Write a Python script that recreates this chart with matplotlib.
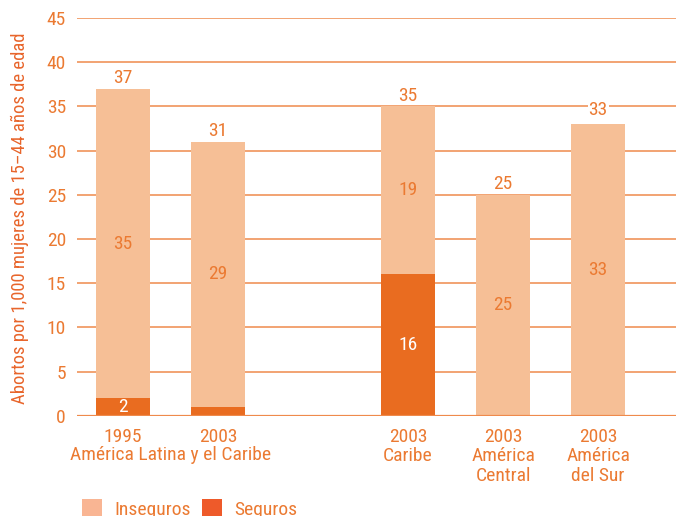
import matplotlib
matplotlib.use("Agg")
import matplotlib.pyplot as plt
from matplotlib.patches import Patch
from matplotlib import font_manager as fm

_avail = set(f.name for f in fm.fontManager.ttflist)
_fams = [f for f in ['Roboto Condensed', 'Archivo Narrow', 'Barlow Semi Condensed',
                     'Asap Condensed', 'DejaVu Sans'] if f in _avail]
plt.rcParams['font.family'] = _fams

# Data
anios = ["1995", "2003", "2003", "2003", "2003"]
regiones = ["", "", "Caribe", "América\nCentral", "América\ndel Sur"]
grupo_label = "América Latina y el Caribe"
seguros = [2, 1, 16, 0, 0]
totales = [37, 31, 35, 25, 33]
inseguros = [35, 29, 19, 25, 33]
seguros_labels = ["2", "", "16", "", ""]
yticks = [0, 5, 10, 15, 20, 25, 30, 35, 40, 45]
ylabel = "Abortos por 1,000 mujeres de 15–44 años de edad"
leyenda = ["Inseguros", "Seguros"]

C_INS = '#f6bf96'
C_SEG = '#e96c20'
C_TXT = '#eb7a32'
C_GRID = '#ef8a4c'
FS = 14

pos = [0, 1, 3, 4, 5]
width = 0.57

fig = plt.figure(figsize=(6.76, 5.16), dpi=100)
ax = fig.add_axes([0.114, 0.194, 0.886, 0.771])

ins_draw = [t - s for t, s in zip(totales, seguros)]
ax.bar(pos, seguros, width, color=C_SEG, zorder=3)
ax.bar(pos, ins_draw, width, bottom=seguros, color=C_INS, zorder=3)

ax.set_ylim(0, 45)
ax.set_xlim(-0.485, 5.82)
ax.set_yticks(yticks)
ax.set_yticklabels([str(v) for v in yticks], color=C_TXT, fontsize=FS)
ax.tick_params(axis='y', length=0, pad=8)
for s in ax.spines.values():
    s.set_visible(False)
for v in yticks[1:]:
    ax.axhline(v, color=C_GRID, lw=1.1, zorder=1)
ax.axhline(0, color=C_GRID, lw=1.6, zorder=4)

XPAD = 8.5
LS = 1.12
ax.set_xticks(pos)
ax.set_xticklabels([a + ("\n" + r if r else "") for a, r in zip(anios, regiones)],
                   color=C_TXT, fontsize=FS, linespacing=LS)
ax.tick_params(axis='x', length=0, pad=XPAD)
ax.annotate(grupo_label, xy=(0.5, 0), xycoords=('data', 'axes fraction'),
            xytext=(0, -28.3), textcoords='offset points', ha='center', va='center',
            color=C_TXT, fontsize=FS)

# labels
for p, t, s, ins, sl in zip(pos, totales, seguros, inseguros, seguros_labels):
    bb = dict(facecolor='white', edgecolor='none', pad=0.5) if p == 5 else None
    ax.text(p, t + (0.6 if p == 5 else 0.2), str(t), ha='center', va='bottom',
            color=C_TXT, fontsize=FS, zorder=5, bbox=bb)
    ax.text(p, s + (t - s) / 2, str(ins), ha='center', va='center', color=C_TXT,
            fontsize=FS, zorder=5)
    if sl:
        ax.text(p, s / 2, sl, ha='center', va='center',
                color='white', fontsize=FS, zorder=5)

fig.text(0.029, 0.577, ylabel, rotation=90, ha='center', va='center', color='#e8652b',
         fontsize=13.4)

handles = [Patch(facecolor='#f9b593'), Patch(facecolor='#ee5a2a')]
fig.legend(handles, leyenda, loc='upper left', bbox_to_anchor=(0.121, 0.033), ncol=2,
           frameon=False, fontsize=FS, labelcolor=C_TXT, handlelength=1.05,
           handleheight=1.1, handletextpad=0.6, columnspacing=0.6, borderaxespad=0,
           borderpad=0)

fig.savefig("out.png", dpi=100)
